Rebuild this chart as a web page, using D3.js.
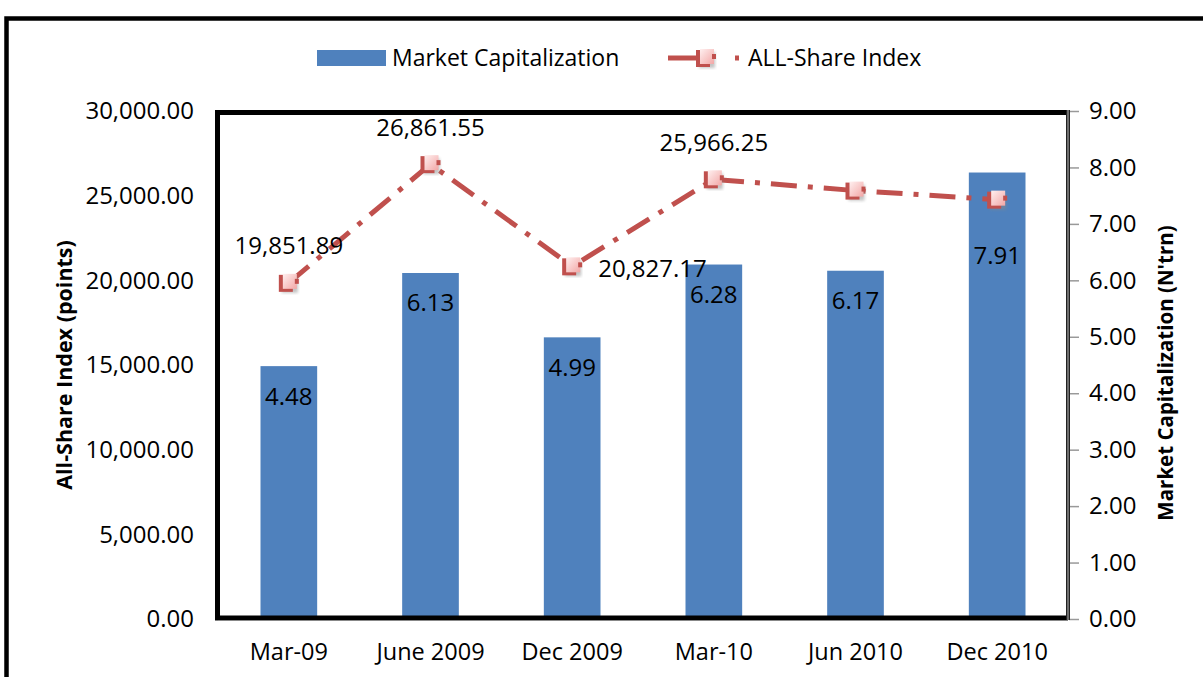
<!DOCTYPE html>
<html>
<head>
<meta charset="utf-8">
<script src="https://cdn.jsdelivr.net/npm/d3@7"></script>
<style>
  body { margin: 0; background: #fff; }
  text { font-family: "Open Sans", "Liberation Sans", sans-serif; fill: #000; }
</style>
</head>
<body>
<div id="chart"></div>
<script>
// Chart data
var categories = ["Mar-09", "June 2009", "Dec 2009", "Mar-10", "Jun 2010", "Dec 2010"];
var marketCap = [4.48, 6.13, 4.99, 6.28, 6.17, 7.91];
var allShareIndex = [19851.89, 26861.55, 20827.17, 25966.25, 25300, 24765.60];
var indexLabels = ["19,851.89", "26,861.55", "20,827.17", "25,966.25", null, "24,765.60"];
var leftTicks = [0, 5000, 10000, 15000, 20000, 25000, 30000];
var rightTicks = [0, 1, 2, 3, 4, 5, 6, 7, 8, 9];

// where each index label sits relative to its marker
var indexLabelSide = ["above", "above", "right", "above", "above", "above"];

var width = 1203;
var height = 677;
var plot = { left: 218, right: 1068, top: 111, bottom: 619 };

var blue = "#4f81bd";
var red = "#c0504d";

var svg = d3.select("#chart")
  .append("svg")
  .attr("width", width)
  .attr("height", height);

// gradient for the line markers
var defs = svg.append("defs");
var grad = defs.append("linearGradient")
  .attr("id", "markerFill")
  .attr("x1", 0).attr("y1", 0).attr("x2", 1).attr("y2", 1);
grad.append("stop").attr("offset", "0%").attr("stop-color", "#fff0f0");
grad.append("stop").attr("offset", "100%").attr("stop-color", "#f2a7a6");
var blur = defs.append("filter").attr("id", "shadow");
blur.append("feGaussianBlur").attr("stdDeviation", 1.5);

// outer frame
svg.append("rect")
  .attr("x", 6.5).attr("y", 18.5)
  .attr("width", 1300).attr("height", 800)
  .attr("fill", "none")
  .attr("stroke", "#000")
  .attr("stroke-width", 4.5);

// Scales
var x = d3.scaleBand()
  .domain(categories)
  .range([plot.left, plot.right])
  .paddingInner(0.6)
  .paddingOuter(0.3);

var yLeft = d3.scaleLinear().domain([0, 30000]).range([plot.bottom, plot.top]);
var yRight = d3.scaleLinear().domain([0, 9]).range([plot.bottom, plot.top]);

var cx = function (i) { return x(categories[i]) + x.bandwidth() / 2; };

// Bars (right axis)
svg.append("g")
  .selectAll("rect")
  .data(marketCap)
  .join("rect")
  .attr("x", function (d, i) { return x(categories[i]); })
  .attr("y", function (d) { return yRight(d); })
  .attr("width", x.bandwidth())
  .attr("height", function (d) { return plot.bottom - yRight(d); })
  .attr("fill", blue);

// Plot border
svg.append("path")
  .attr("d", "M" + (plot.right - 2) + "," + (plot.top + 1.5) +
    "H" + (plot.left - 0.5) + "V" + (plot.bottom - 1) + "H" + (plot.right - 2))
  .attr("fill", "none")
  .attr("stroke", "#000")
  .attr("stroke-width", 5);
svg.append("line")
  .attr("x1", plot.left).attr("x2", plot.right)
  .attr("y1", plot.bottom + 1.5).attr("y2", plot.bottom + 1.5)
  .attr("stroke", "#888").attr("stroke-width", 1);

// Left axis
var leftAxis = d3.axisLeft(yLeft)
  .tickValues(leftTicks)
  .tickSize(0)
  .tickPadding(24)
  .tickFormat(d3.format(",.2f"));
var gl = svg.append("g")
  .attr("transform", "translate(" + plot.left + ",0)")
  .call(leftAxis);
gl.select(".domain").remove();
gl.selectAll("text")
  .style("font-size", "24px")
  .attr("fill", "#000");

// Right axis
var rightAxis = d3.axisRight(yRight)
  .tickValues(rightTicks)
  .tickSize(10)
  .tickPadding(10)
  .tickFormat(d3.format(".2f"));
var gr = svg.append("g")
  .attr("transform", "translate(" + (plot.right + 1) + ",0)")
  .call(rightAxis);
gr.select(".domain").remove();
gr.selectAll("line").attr("stroke", "#999").attr("stroke-width", 1.5);
gr.selectAll("text")
  .style("font-size", "24px")
  .attr("fill", "#000");
// double axis line
svg.append("line")
  .attr("x1", plot.right).attr("x2", plot.right)
  .attr("y1", plot.top - 1).attr("y2", plot.bottom + 1)
  .attr("stroke", "#222").attr("stroke-width", 4);
svg.append("line")
  .attr("x1", plot.right).attr("x2", plot.right)
  .attr("y1", plot.top - 1).attr("y2", plot.bottom + 1)
  .attr("stroke", "#bbb").attr("stroke-width", 1);

// X axis labels
var xAxis = d3.axisBottom(x).tickSize(0).tickPadding(24);
var gx = svg.append("g")
  .attr("transform", "translate(0," + plot.bottom + ")")
  .call(xAxis);
gx.select(".domain").remove();
gx.selectAll("text")
  .style("font-size", "23.5px")
  .attr("fill", "#000");

// Axis titles
svg.append("text")
  .attr("transform", "translate(72," + ((plot.top + plot.bottom) / 2) + ")rotate(-90)")
  .attr("text-anchor", "middle")
  .style("font-size", "21.5px")
  .style("font-weight", "bold")
  .text("All-Share Index (points)");

svg.append("text")
  .attr("transform", "translate(1173,373)rotate(-90)")
  .attr("text-anchor", "middle")
  .style("font-size", "20.5px")
  .style("font-weight", "bold")
  .text("Market Capitalization (N'trn)");

// Line (left axis)
var line = d3.line()
  .x(function (d, i) { return cx(i); })
  .y(function (d) { return yLeft(d); });

svg.append("path")
  .datum(allShareIndex)
  .attr("d", line)
  .attr("fill", "none")
  .attr("stroke", red)
  .attr("stroke-width", 5)
  .attr("stroke-dasharray", "26,11,5,11");

function drawMarker(g) {
  g.append("rect")
    .attr("x", -7).attr("y", -6).attr("width", 16).attr("height", 16)
    .attr("fill", "#888").attr("opacity", 0.5)
    .attr("filter", "url(#shadow)");
  g.append("rect")
    .attr("x", -10).attr("y", -8).attr("width", 14).attr("height", 17)
    .attr("fill", red);
  g.append("rect")
    .attr("x", -6).attr("y", -9).attr("width", 14).attr("height", 15)
    .attr("fill", "url(#markerFill)");
  g.append("rect")
    .attr("x", 6).attr("y", -4).attr("width", 4).attr("height", 5)
    .attr("fill", red);
}

svg.append("g")
  .selectAll("g")
  .data(allShareIndex)
  .join("g")
  .attr("transform", function (d, i) { return "translate(" + cx(i) + "," + yLeft(d) + ")"; })
  .each(function () { drawMarker(d3.select(this)); });

// Bar value labels
svg.append("g")
  .selectAll("text")
  .data(marketCap)
  .join("text")
  .attr("x", function (d, i) { return cx(i); })
  .attr("y", function (d, i) {
    var ly = yRight(d) + 30;
    var my = yLeft(allShareIndex[i]);
    // push the label under the marker when they overlap
    if (Math.abs(ly - my) < 30) ly = my + 56;
    return ly;
  })
  .attr("dy", "0.35em")
  .attr("text-anchor", "middle")
  .style("font-size", "24px")
  .text(function (d) { return d.toFixed(2); });

// Index value labels
svg.append("g")
  .selectAll("text")
  .data(allShareIndex)
  .join("text")
  .filter(function (d, i) { return indexLabels[i] !== null; })
  .attr("x", function (d, i) { return indexLabelSide[i] === "right" ? cx(i) + 26 : cx(i); })
  .attr("y", function (d, i) { return indexLabelSide[i] === "right" ? yLeft(d) + 2 : yLeft(d) - 37; })
  .attr("dy", "0.35em")
  .attr("text-anchor", function (d, i) { return indexLabelSide[i] === "right" ? "start" : "middle"; })
  .style("font-size", "24px")
  .text(function (d, i) { return indexLabels[i]; });

// Legend
var legend = svg.append("g");
legend.append("rect")
  .attr("x", 317).attr("y", 50).attr("width", 69).attr("height", 16)
  .attr("fill", blue);
legend.append("text")
  .attr("x", 392).attr("y", 58).attr("dy", "0.35em")
  .style("font-size", "23px")
  .text("Market Capitalization");
legend.append("line")
  .attr("x1", 668).attr("x2", 698).attr("y1", 58).attr("y2", 58)
  .attr("stroke", red).attr("stroke-width", 5);
legend.append("rect")
  .attr("x", 735).attr("y", 55.5).attr("width", 4).attr("height", 5)
  .attr("fill", red);
var lm = legend.append("g").attr("transform", "translate(706,58)");
drawMarker(lm);
legend.append("text")
  .attr("x", 748).attr("y", 58).attr("dy", "0.35em")
  .style("font-size", "23px")
  .text("ALL-Share Index");
</script>
</body>
</html>
